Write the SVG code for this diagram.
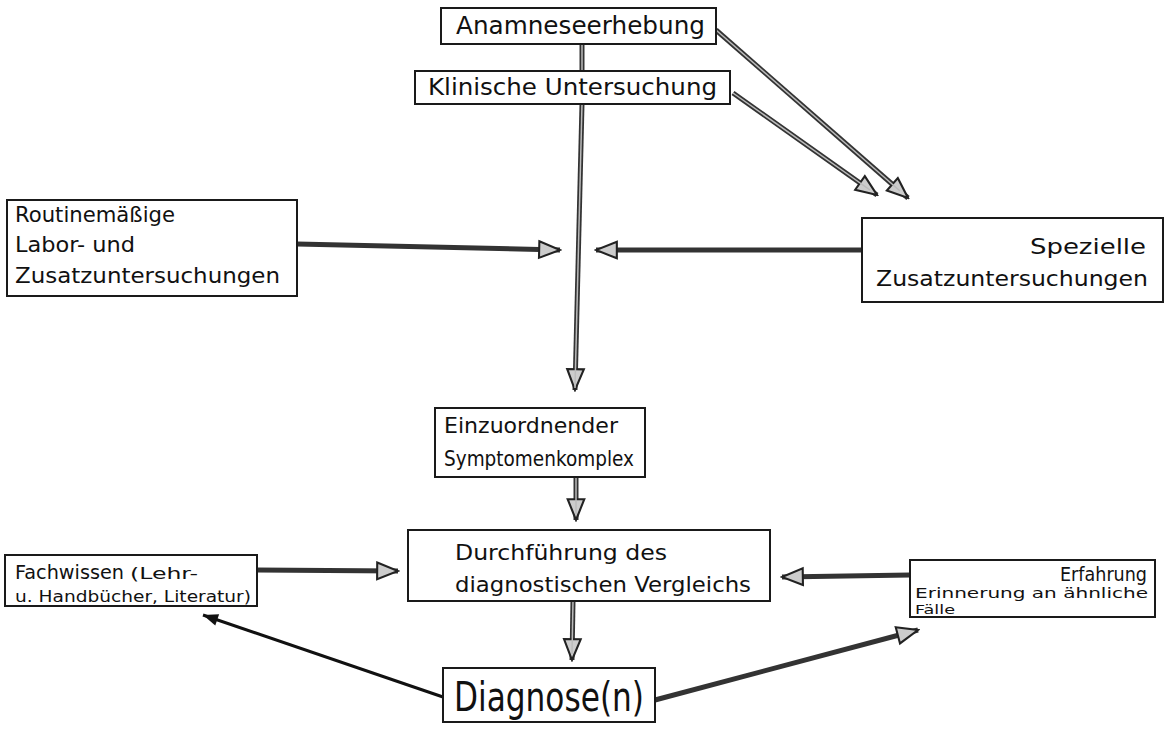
<svg xmlns="http://www.w3.org/2000/svg" width="1168" height="731" viewBox="0 0 1168 731">
<style>
.box{fill:#fff;stroke:#1a1a1a;stroke-width:2}
.t{font-family:"DejaVu Sans","Liberation Sans",sans-serif;fill:#111}
.pipe{stroke:#333;stroke-width:5;fill:none}
.core{stroke:#bbb;stroke-width:1.5;fill:none}
.thin{stroke:#111;stroke-width:3;fill:none}
</style>
<defs>
<marker id="ah" viewBox="0 0 12 10" refX="11" refY="5" markerWidth="5" markerHeight="5" orient="auto" markerUnits="strokeWidth">
<path d="M1,1 L11,5 L1,9 Z" fill="#ccc" stroke="#222" stroke-width="1"/>
</marker>
<marker id="ahf" viewBox="0 0 12 10" refX="11" refY="5" markerWidth="6" markerHeight="6" orient="auto" markerUnits="strokeWidth">
<path d="M1,1 L11,5 L1,9 Z" fill="#111"/>
</marker>
</defs>
<rect width="1168" height="731" fill="#fff"/>
<g id="connectors">
<line class="pipe" x1="582" y1="44" x2="582" y2="71"/>
<line class="core" x1="582" y1="44" x2="582" y2="71"/>
<line class="pipe" x1="582" y1="104" x2="575" y2="390" marker-end="url(#ah)"/>
<line class="core" x1="582" y1="104" x2="575" y2="388"/>
<line class="pipe" x1="297" y1="244" x2="560" y2="250" marker-end="url(#ah)"/>
<line class="pipe" x1="862" y1="250" x2="596" y2="250" marker-end="url(#ah)"/>
<line class="pipe" x1="716" y1="30" x2="908" y2="198" marker-end="url(#ah)"/>
<line class="core" x1="716" y1="30" x2="900" y2="191"/>
<line class="pipe" x1="733" y1="93" x2="877" y2="195" marker-end="url(#ah)"/>
<line class="core" x1="733" y1="93" x2="870" y2="190"/>
<line class="pipe" x1="576" y1="477" x2="576" y2="520" marker-end="url(#ah)"/>
<line class="core" x1="576" y1="477" x2="576" y2="515"/>
<line class="pipe" x1="573" y1="601" x2="572" y2="660" marker-end="url(#ah)"/>
<line class="core" x1="573" y1="601" x2="572" y2="654"/>
<line class="pipe" x1="257" y1="570" x2="398" y2="571" marker-end="url(#ah)"/>
<line class="pipe" x1="910" y1="575" x2="782" y2="577" marker-end="url(#ah)"/>
<line class="thin" x1="443" y1="697" x2="203" y2="615" marker-end="url(#ahf)"/>
<line class="pipe" x1="655" y1="700" x2="918" y2="630" marker-end="url(#ah)"/>
</g>
<g id="anamnese">
<rect class="box" x="441" y="8" width="275" height="36"/>
<text class="t" x="456" y="34" font-size="24" textLength="249" lengthAdjust="spacingAndGlyphs">Anamneseerhebung</text>
</g>
<g id="klinische">
<rect class="box" x="415" y="71" width="315" height="33"/>
<text class="t" x="428" y="95" font-size="23" textLength="289" lengthAdjust="spacingAndGlyphs">Klinische  Untersuchung</text>
</g>
<g id="routine">
<rect class="box" x="7" y="200" width="290" height="96"/>
<text class="t" x="15" y="222" font-size="21" textLength="160" lengthAdjust="spacingAndGlyphs">Routinemäßige</text>
<text class="t" x="15" y="252" font-size="21" textLength="120" lengthAdjust="spacingAndGlyphs">Labor-  und</text>
<text class="t" x="15" y="283" font-size="21" textLength="265" lengthAdjust="spacingAndGlyphs">Zusatzuntersuchungen</text>
</g>
<g id="spezielle">
<rect class="box" x="862" y="218" width="301" height="84"/>
<text class="t" x="1030" y="254" font-size="22" textLength="116" lengthAdjust="spacingAndGlyphs">Spezielle</text>
<text class="t" x="876" y="286" font-size="22" textLength="272" lengthAdjust="spacingAndGlyphs">Zusatzuntersuchungen</text>
</g>
<g id="einzuordnender">
<rect class="box" x="435" y="408" width="210" height="69"/>
<text class="t" x="444" y="433" font-size="21" textLength="174" lengthAdjust="spacingAndGlyphs">Einzuordnender</text>
<text class="t" x="444" y="466" font-size="21" textLength="190" lengthAdjust="spacingAndGlyphs">Symptomenkomplex</text>
</g>
<g id="durchfuehrung">
<rect class="box" x="408" y="530" width="362" height="71"/>
<text class="t" x="455" y="560" font-size="22" textLength="212" lengthAdjust="spacingAndGlyphs">Durchführung des</text>
<text class="t" x="455" y="592" font-size="22" textLength="296" lengthAdjust="spacingAndGlyphs">diagnostischen  Vergleichs</text>
</g>
<g id="diagnose">
<rect class="box" x="443" y="668" width="212" height="54"/>
<text class="t" x="454" y="711" font-size="40" textLength="190" lengthAdjust="spacingAndGlyphs">Diagnose(n)</text>
</g>
<g id="fachwissen">
<rect class="box" x="5" y="555" width="252" height="51"/>
<text class="t" x="15" y="579" font-size="19" textLength="109" lengthAdjust="spacingAndGlyphs">Fachwissen</text>
<text class="t" x="130" y="579" font-size="16" textLength="68" lengthAdjust="spacingAndGlyphs">(Lehr-</text>
<text class="t" x="15" y="602" font-size="16" textLength="236" lengthAdjust="spacingAndGlyphs">u. Handbücher, Literatur)</text>
</g>
<g id="erfahrung">
<rect class="box" x="910" y="560" width="245" height="57"/>
<text class="t" x="1060" y="581" font-size="19" textLength="87" lengthAdjust="spacingAndGlyphs">Erfahrung</text>
<text class="t" x="915" y="598" font-size="14" textLength="233" lengthAdjust="spacingAndGlyphs">Erinnerung an ähnliche</text>
<text class="t" x="915" y="614" font-size="12" textLength="40" lengthAdjust="spacingAndGlyphs">Fälle</text>
</g>
</svg>
